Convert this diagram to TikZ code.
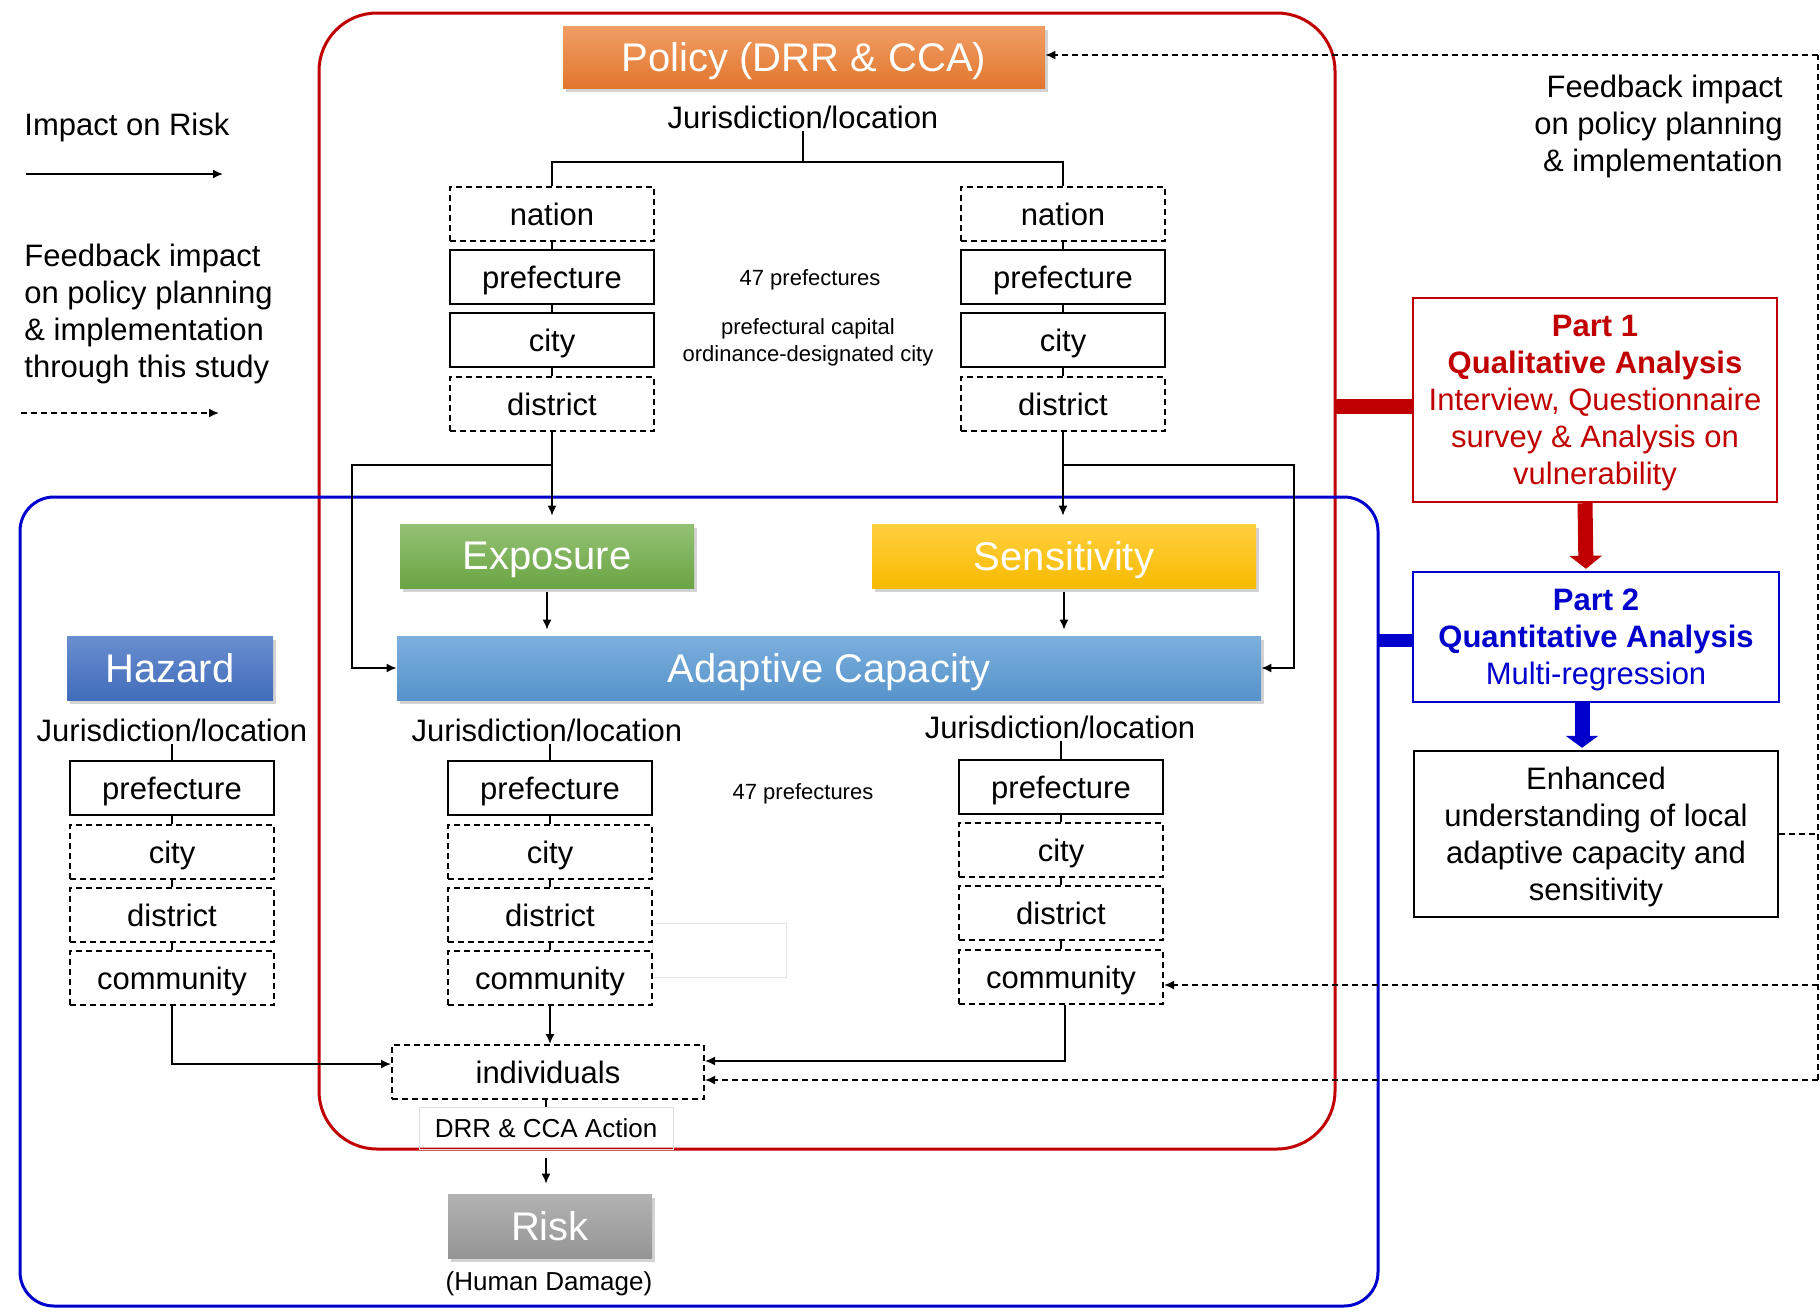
\documentclass[tikz,border=0pt]{standalone}
\usepackage{fontspec}
\setmainfont{Liberation Sans}
\usetikzlibrary{arrows.meta, shadows}

\definecolor{frameRed}{RGB}{192,0,0}
\definecolor{frameBlue}{RGB}{0,0,204}
\definecolor{offOrange}{HTML}{ED7D31}
\definecolor{offGreen}{HTML}{70AD47}
\definecolor{offGold}{HTML}{FFC000}
\definecolor{offBlue}{HTML}{5B9BD5}
\definecolor{offDarkBlue}{HTML}{4472C4}
\definecolor{offGray}{HTML}{A5A5A5}

\begin{document}
\begin{tikzpicture}[x=0.5pt, y=-0.5pt]
	% Node styles
	\tikzset{level box/.style={draw, line width=1pt, fill=white,
								minimum width=102pt, minimum height=27pt,
								inner sep=0pt, text depth=0pt,
								font=\fontsize{15.5}{18.5}\selectfont},
			 level dashed/.style={level box, dash pattern=on 3pt off 2pt},
			 factor box/.style={minimum height=32pt, inner sep=0pt, text=white, text depth=0pt,
								font=\fontsize{20}{24}\selectfont,
								drop shadow={opacity=0.35, shadow xshift=1.5pt, shadow yshift=-2pt}},
			 juris/.style={font=\fontsize{15.5}{18.5}\selectfont, inner sep=1pt},
			 small note/.style={font=\fontsize{11}{13.5}\selectfont, align=center, inner sep=0pt},
			 part box/.style={draw, line width=1.2pt, fill=white, align=center,
								inner sep=0pt, text depth=0pt,
								font=\fontsize{15.5}{18.5}\selectfont},
			 link/.style={line width=0.8pt},
			 impact/.style={link, -{Latex[length=5pt, width=4.5pt]}},
			 fbline/.style={link, dash pattern=on 3pt off 2pt},
			 feedback/.style={impact, dash pattern=on 3pt off 2pt}}
	
	\useasboundingbox (0,0) rectangle (1820,1312);
	
	% Frames
	\draw[frameRed, line width=1.5pt, rounded corners=29pt] (319,13) rectangle (1335,1149);
	\draw[frameBlue, line width=1.5pt, rounded corners=17pt] (20,497) rectangle (1378,1306);
	\draw[gray!20, line width=0.5pt] (652,923) rectangle (786,977);
	
	% Legend
	\node[juris, anchor=west, inner sep=0pt] at (24,127) (legImp) {Impact on Risk};
	\coordinate (legImpA) at (26,174);
	\coordinate (legImpB) at (223,174);
	\node[juris, anchor=west, inner sep=0pt, align=left] at (24,313.5) (legFb)
		{Feedback impact\\on policy planning\\\& implementation\\through this study};
	\coordinate (legFbA) at (21,413);
	\coordinate (legFbB) at (219,413);
	\node[juris, anchor=east, inner sep=0pt, align=right] at (1783,126.5) (fbNote)
		{Feedback impact\\on policy planning\\\& implementation};
	
	% Policy and its jurisdictions
	\node[factor box, minimum width=241pt, minimum height=31pt,
		top color=offOrange!75!white, bottom color=offOrange!95!black] at (804,57) (pol) {Policy (DRR \& CCA)};
	\node[juris] at (803,117) (jP) {Jurisdiction/location};
	\node[level dashed] at (552,214)	(natL)	{nation};
	\node[level box]	at (552,277)	(prefL)	{prefecture};
	\node[level box]	at (552,340)	(cityL)	{city};
	\node[level dashed] at (552,404)	(disL)	{district};
	\node[level dashed] at (1063,214)	(natR)	{nation};
	\node[level box]	at (1063,277)	(prefR)	{prefecture};
	\node[level box]	at (1063,340)	(cityR)	{city};
	\node[level dashed] at (1063,404)	(disR)	{district};
	\node[small note] at (810,279.5) (noteP) {47 prefectures};
	\node[small note] at (808,342.5) (noteC) {prefectural capital\\ordinance-designated city};
	
	% Factors
	\node[factor box, minimum width=147pt,
		top color=offGreen!75!white, bottom color=offGreen!95!black] at (547,556) (expo) {Exposure};
	\node[factor box, minimum width=192pt,
		top color=offGold!75!white, bottom color=offGold!97!black] at (1064,556) (sens) {Sensitivity};
	\node[factor box, minimum width=432pt,
		top color=offBlue!80!white, bottom color=offBlue!95!black] at (829,668) (ac) {Adaptive Capacity};
	\node[factor box, minimum width=103pt,
		top color=offDarkBlue!80!white, bottom color=offDarkBlue!95!black] at (170,668) (haz) {Hazard};
	
	% Lower jurisdictions
	\node[juris] at (172,730)	(jH) {Jurisdiction/location};
	\node[level box]	at (172,788)	(prefH)	{prefecture};
	\node[level dashed] at (172,852)	(cityH)	{city};
	\node[level dashed] at (172,915)	(disH)	{district};
	\node[level dashed] at (172,978)	(comH)	{community};
	\node[juris] at (547,730)	(jC) {Jurisdiction/location};
	\node[level box]	at (550,788)	(prefC)	{prefecture};
	\node[level dashed] at (550,852)	(cityC)	{city};
	\node[level dashed] at (550,915)	(disC)	{district};
	\node[level dashed] at (550,978)	(comC)	{community};
	\node[juris] at (1060,727)	(jS) {Jurisdiction/location};
	\node[level box]	at (1061,787)	(prefS)	{prefecture};
	\node[level dashed] at (1061,850)	(cityS)	{city};
	\node[level dashed] at (1061,913)	(disS)	{district};
	\node[level dashed] at (1061,977)	(comS)	{community};
	\node[small note] at (803,793.5) (noteL) {47 prefectures};
	
	% Individuals and risk
	\node[level dashed, minimum width=156pt] at (548,1072) (indiv) {individuals};
	\node[draw=gray!25, line width=0.5pt, minimum width=127pt, minimum height=21pt, inner sep=0pt,
		font=\fontsize{13}{15}\selectfont] at (546,1128) (act) {DRR \& CCA Action};
	\node[factor box, minimum width=102pt,
		top color=offGray!85!white, bottom color=offGray!90!black] at (550,1226) (risk) {Risk};
	\node[font=\fontsize{13}{15}\selectfont, inner sep=0pt] at (549,1283.5) (dmg) {(Human Damage)};
	
	% Study parts
	\node[part box, draw=frameRed, text=frameRed, minimum width=182pt, minimum height=102pt] at (1595,400) (p1)
		{\textbf{Part 1}\\\textbf{Qualitative Analysis}\\Interview,\ Questionnaire\\survey \& Analysis on\\vulnerability};
	\node[part box, draw=frameBlue, text=frameBlue, minimum width=183pt, minimum height=65pt] at (1596,637) (p2)
		{\textbf{Part 2}\\\textbf{Quantitative Analysis}\\Multi-regression};
	\node[part box, minimum width=182pt, minimum height=83pt] at (1596,834) (enh)
		{Enhanced\\understanding of local\\adaptive capacity and\\sensitivity};
	
	% Draw connectors
	\draw[impact] (legImpA) -- (legImpB);
	\draw[feedback] (legFbA) -- (legFbB);
	
	\coordinate (fork) at (803,162);
	\draw[link] (jP.south) -- (fork);
	\draw[link] (natL.north) |- (fork) -| (natR.north);
	\foreach \a/\b in {natL/prefL, prefL/cityL, cityL/disL, natR/prefR, prefR/cityR, cityR/disR,
					   jH/prefH, prefH/cityH, cityH/disH, disH/comH,
					   jC/prefC, prefC/cityC, cityC/disC, disC/comC,
					   jS/prefS, prefS/cityS, cityS/disS, disS/comS, indiv/act}
		\draw[link] (\b.north |- \a.south) -- (\b.north);
	
	\draw[impact, shorten >=4pt] (disL.south) -- (disL.south |- expo.north);
	\draw[impact] (disL.south) ++(0,33) -- ++(-200,0) |- (ac.west);
	\draw[impact, shorten >=4pt] (disR.south) -- (disR.south |- sens.north);
	\draw[impact] (disR.south) ++(0,33) -- ++(231,0) |- (ac.east);
	\draw[impact, shorten <=2pt, shorten >=3pt] (expo.south) -- (expo.south |- ac.north);
	\draw[impact, shorten <=2pt, shorten >=3pt] (sens.south) -- (sens.south |- ac.north);
	
	\draw[impact] (comC.south) -- (comC.south |- indiv.north);
	\draw[impact] (comH.south) |- ([yshift=4pt]indiv.west);
	\draw[impact] ([xshift=2pt]comS.south) |- ([yshift=5.5pt]indiv.east);
	\draw[impact, shorten <=4pt, shorten >=5pt] (act.south) -- (risk.north -| act.south);
	
	% Study links
	\coordinate (redEdge) at (1335,406);
	\coordinate (blueEdge) at (1378,640);
	\draw[frameRed, line width=7.5pt] (redEdge) -- (redEdge -| p1.west);
	\draw[frameBlue, line width=6.5pt] (blueEdge) -- (blueEdge -| p2.west);
	\draw[frameRed, line width=7.5pt, -{Triangle[length=6.5pt, width=16pt]}]
		([xshift=-5pt]p1.south) -- ([xshift=-5pt, yshift=1pt]p2.north);
	\draw[frameBlue, line width=7.5pt, -{Triangle[length=6pt, width=16pt]}]
		([xshift=-7pt]p2.south) -- ([xshift=-7pt, yshift=1pt]enh.north);
	
	% Feedback loop
	\coordinate (fbTop) at (1818,55);
	\coordinate (fbCom) at (1818,985);
	\coordinate (fbInd) at (1818,1080);
	\draw[fbline] (enh.east) -- (enh.east -| fbTop);
	\draw[fbline] (fbInd) -- (fbTop);
	\draw[feedback] (fbTop) -- (fbTop -| pol.east);
	\draw[feedback] (fbCom) -- (fbCom -| comS.east);
	\draw[feedback] (fbInd) -- (fbInd -| indiv.east);
	
\end{tikzpicture}
\end{document}
